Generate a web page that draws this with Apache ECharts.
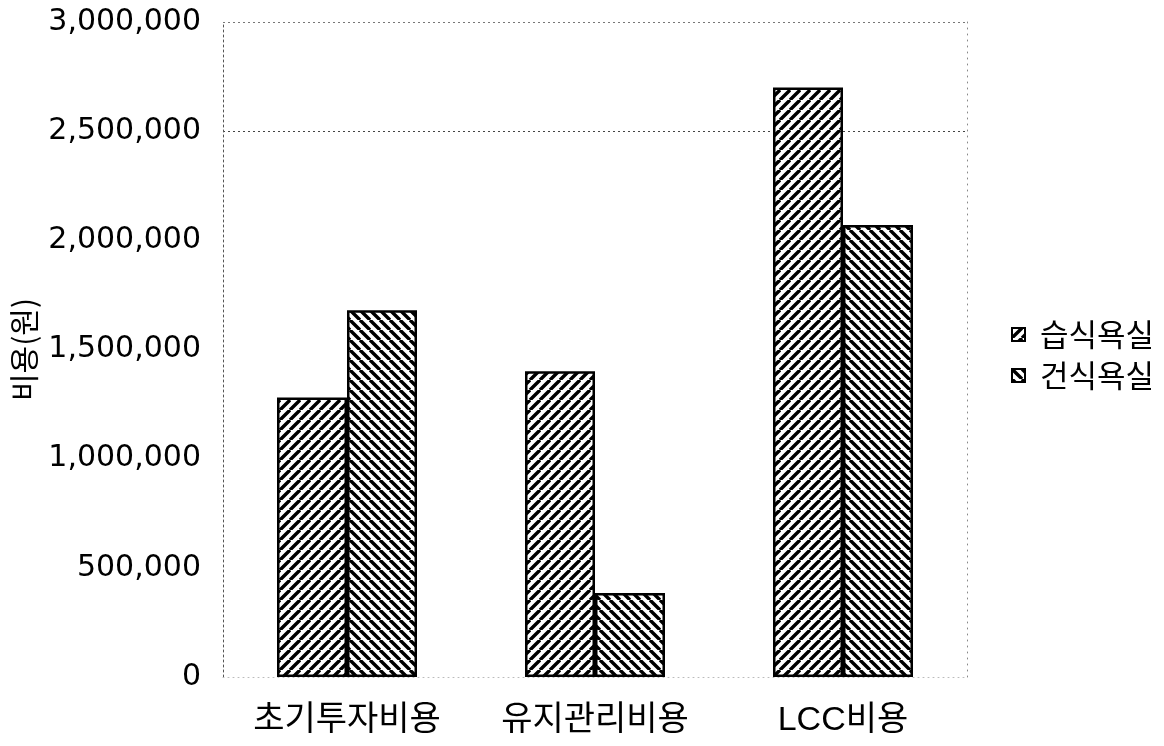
<!DOCTYPE html>
<html>
<head>
<meta charset="utf-8">
<script src="https://cdn.jsdelivr.net/npm/echarts@6/dist/echarts.min.js"></script>
<style>
  html, body { margin: 0; padding: 0; background: #fff; }
  #chart { width: 1164px; height: 746px; }
</style>
</head>
<body>
<div id="chart"></div>
<script>
// Cost comparison: wet bathroom vs dry bathroom (won)
const categories = ['초기투자비용', '유지관리비용', 'LCC비용'];
const seriesNames = ['습식욕실', '건식욕실'];
const wetValues = [1280000, 1400000, 2700000];
const dryValues = [1680000, 385000, 2070000];
const yTicks = { min: 0, max: 3000000, interval: 500000 };
const yAxisTitle = '비용(원)';

// Diagonal hatch tile: '/' or '\'
function hatch(dir) {
  const s = 10;
  const c = document.createElement('canvas');
  c.width = s; c.height = s;
  const g = c.getContext('2d');
  g.fillStyle = '#fff';
  g.fillRect(0, 0, s, s);
  g.strokeStyle = '#000';
  g.lineWidth = 3.4;
  g.beginPath();
  for (let k = -1; k <= 1; k++) {
    if (dir === '/') {
      g.moveTo(k * s, s);
      g.lineTo(k * s + s, 0);
    } else {
      g.moveTo(k * s, 0);
      g.lineTo(k * s + s, s);
    }
  }
  g.stroke();
  return c;
}

const chart = echarts.init(document.getElementById('chart'));
const labelFont = '"Liberation Sans", "Noto Sans CJK KR", sans-serif';

chart.setOption({
  backgroundColor: '#fff',
  animation: false,
  grid: {
    left: 223, right: 197, top: 22, bottom: 69,
    containLabel: false,
    outerBoundsMode: 'none'
  },
  legend: {
    orient: 'vertical',
    left: 1006,
    top: 314,
    itemWidth: 13,
    itemHeight: 13,
    itemGap: 10,
    icon: 'rect',
    textStyle: {
      fontFamily: '"Noto Sans CJK KR", sans-serif',
      fontSize: 31,
      color: '#000',
      padding: [0, 0, 0, 10]
    },
    data: seriesNames
  },
  xAxis: {
    type: 'category',
    data: categories,
    axisLine: { show: true, lineStyle: { color: '#bbb', type: [1, 4], width: 1 } },
    axisTick: { show: false },
    axisLabel: {
      interval: 0,
      hideOverlap: false,
      margin: 27,
      fontSize: 34,
      color: '#000',
      fontFamily: labelFont
    }
  },
  yAxis: [
    {
      type: 'value',
      min: yTicks.min,
      max: yTicks.max,
      interval: yTicks.interval,
      name: yAxisTitle,
      nameLocation: 'middle',
      nameRotate: 90,
      nameGap: 184,
      nameMoveOverlap: false,
      nameTextStyle: {
        fontSize: 30,
        color: '#000',
        fontFamily: '"Noto Sans CJK KR", sans-serif'
      },
      axisLine: { show: true, lineStyle: { color: '#555', type: [2, 3], width: 1 } },
      axisTick: { show: false },
      axisLabel: {
        margin: 22,
        fontSize: 30,
        color: '#000',
        fontFamily: '"DejaVu Sans", sans-serif',
        formatter: v => v.toLocaleString('en-US')
      },
      splitLine: {
        show: true,
        lineStyle: {
          color: ['rgba(0,0,0,0)', 'rgba(0,0,0,0)', 'rgba(0,0,0,0)', 'rgba(0,0,0,0)', 'rgba(0,0,0,0)', '#444', '#777'],
          type: [2, 3],
          width: 1
        }
      }
    },
    {
      type: 'value',
      position: 'right',
      min: yTicks.min,
      max: yTicks.max,
      interval: yTicks.interval,
      axisLine: { show: true, lineStyle: { color: '#888', type: [1, 5], width: 1 } },
      axisTick: { show: false },
      axisLabel: { show: false },
      splitLine: { show: false }
    }
  ],
  series: [
    {
      name: seriesNames[0],
      type: 'bar',
      data: wetValues,
      barWidth: 70,
      barGap: '0%',
      itemStyle: {
        color: { image: hatch('/'), repeat: 'repeat' },
        borderColor: '#000',
        borderWidth: 2.5
      }
    },
    {
      name: seriesNames[1],
      type: 'bar',
      data: dryValues,
      barWidth: 70,
      barGap: '0%',
      itemStyle: {
        color: { image: hatch('\\'), repeat: 'repeat' },
        borderColor: '#000',
        borderWidth: 2.5
      }
    }
  ]
});
</script>
</body>
</html>
